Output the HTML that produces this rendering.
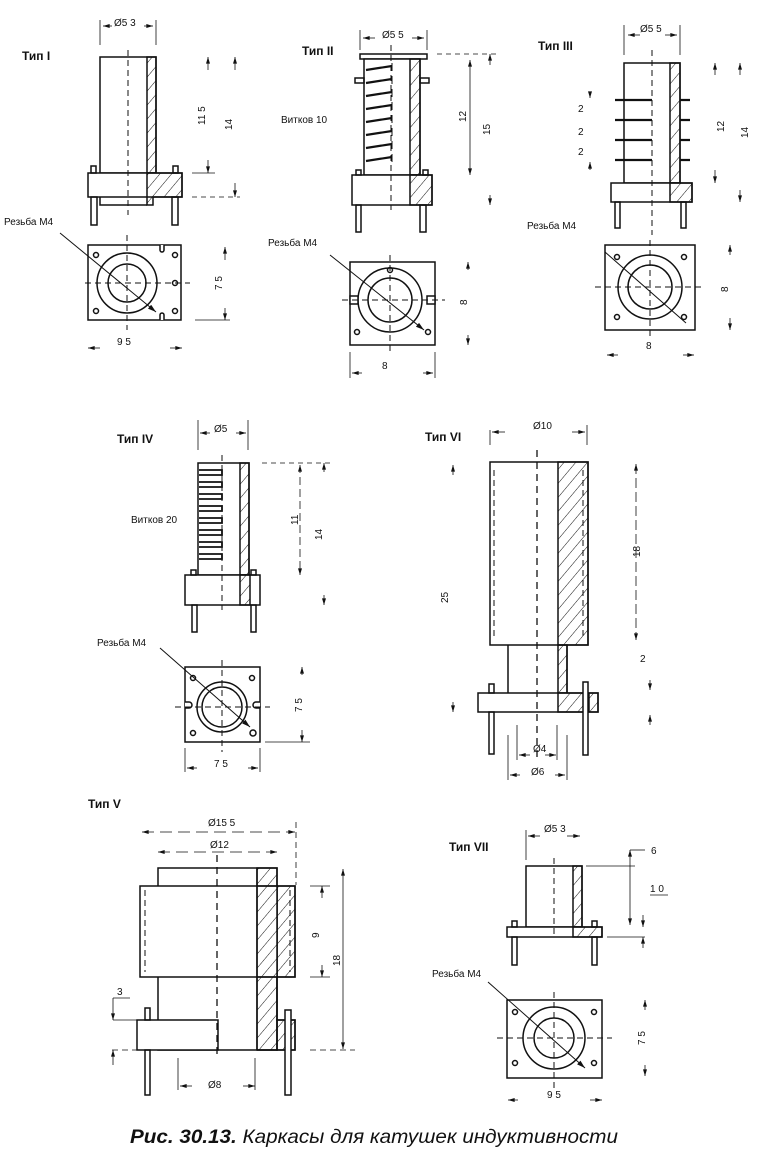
<!DOCTYPE html>
<html><head><meta charset="utf-8"><style>
html,body{margin:0;padding:0;background:#fff}
svg{display:block}
text{font-family:"Liberation Sans",sans-serif;fill:#111}
.b{font-weight:bold;font-size:12px}
.s{font-size:10px}
</style></head><body>
<svg width="766" height="1150" viewBox="0 0 766 1150" xmlns="http://www.w3.org/2000/svg">
<defs>
<pattern id="h" patternUnits="userSpaceOnUse" width="9" height="9" patternTransform="rotate(40)">
<line x1="0" y1="0" x2="0" y2="9" stroke="#111" stroke-width="1"/>
</pattern>
<marker id="a" viewBox="0 0 10 6" refX="10" refY="3" markerWidth="9" markerHeight="5" orient="auto-start-reverse"><path d="M0,0L10,3L0,6z" fill="#111"/></marker>
</defs>
<g fill="none" stroke="#111" stroke-width="1.5">

<!-- ===== Type I ===== -->
<rect x="100" y="57" width="56" height="116" fill="#fff"/>
<rect x="147" y="57" width="9" height="116" fill="url(#h)"/>
<rect x="88" y="173" width="94" height="24" fill="#fff"/>
<path d="M147 173H182V197H153V205H147Z" fill="url(#h)"/>
<path d="M100 197V205H147"/>
<rect x="91" y="166" width="5" height="7"/><rect x="173" y="166" width="5" height="7"/>
<rect x="91" y="197" width="6" height="28"/><rect x="172" y="197" width="6" height="28"/>
<line x1="128" y1="50" x2="128" y2="215" stroke-dasharray="6,4" stroke-width="1"/>
<rect x="88" y="245" width="93" height="75"/>
<circle cx="127" cy="283" r="30"/><circle cx="127" cy="283" r="19"/>
<circle cx="96" cy="255" r="2.5"/><circle cx="175" cy="255" r="2.5"/><circle cx="175" cy="283" r="2.5"/><circle cx="96" cy="311" r="2.5"/><circle cx="175" cy="311" r="2.5"/>
<path d="M160 245v5a2 2 0 0 0 4 0v-5M160 320v-5a2 2 0 0 1 4 0v5" fill="#fff"/>
<line x1="60" y1="233" x2="156" y2="312" stroke-width="1" marker-end="url(#a)"/>
<line x1="85" y1="283" x2="190" y2="283" stroke-dasharray="6,4" stroke-width="1"/>
<line x1="127" y1="235" x2="127" y2="330" stroke-dasharray="6,4" stroke-width="1"/>
<line x1="100" y1="20" x2="100" y2="45" stroke-width="0.8"/><line x1="156" y1="20" x2="156" y2="45" stroke-width="0.8"/>
<line x1="103" y1="26" x2="112" y2="26" marker-start="url(#a)" stroke-width="0.8"/><line x1="144" y1="26" x2="153" y2="26" marker-end="url(#a)" stroke-width="0.8"/>
<line x1="208" y1="70" x2="208" y2="57" marker-end="url(#a)" stroke-width="0.8"/><line x1="208" y1="160" x2="208" y2="173" marker-end="url(#a)" stroke-width="0.8"/>
<line x1="235" y1="70" x2="235" y2="57" marker-end="url(#a)" stroke-width="0.8"/><line x1="235" y1="183" x2="235" y2="197" marker-end="url(#a)" stroke-width="0.8"/>
<line x1="192" y1="173" x2="215" y2="173" stroke-width="0.8"/><line x1="192" y1="197" x2="240" y2="197" stroke-width="0.8" stroke-dasharray="5,4"/>
<line x1="225" y1="260" x2="225" y2="247" marker-end="url(#a)" stroke-width="0.8"/><line x1="225" y1="308" x2="225" y2="320" marker-end="url(#a)" stroke-width="0.8"/>
<line x1="195" y1="320" x2="230" y2="320" stroke-width="0.8"/>
<line x1="100" y1="348" x2="88" y2="348" marker-end="url(#a)" stroke-width="0.8"/><line x1="170" y1="348" x2="182" y2="348" marker-end="url(#a)" stroke-width="0.8"/>

<!-- ===== Type II ===== -->
<rect x="360" y="54" width="67" height="5" fill="#fff"/>
<rect x="364" y="59" width="56" height="116" fill="#fff"/>
<rect x="410" y="59" width="10" height="116" fill="url(#h)"/>
<g stroke-width="2.2">
<path d="M366 70L392 66M366 83L392 79M366 96L392 92M366 109L392 105M366 122L392 118M366 135L392 131M366 148L392 144M366 161L392 157"/>
</g>
<path d="M392 63V165" stroke-width="1" stroke-dasharray="8,5"/>
<rect x="355" y="78" width="9" height="5"/><rect x="420" y="78" width="9" height="5"/>
<rect x="352" y="175" width="80" height="30" fill="#fff"/>
<path d="M410 175H432V205H410Z" fill="url(#h)"/>
<rect x="356" y="205" width="5" height="27"/><rect x="420" y="205" width="6" height="27"/>
<rect x="356" y="170" width="5" height="5"/><rect x="423" y="170" width="5" height="5"/>
<line x1="391" y1="45" x2="391" y2="210" stroke-dasharray="6,4" stroke-width="1"/>
<rect x="350" y="262" width="85" height="83"/>
<circle cx="390" cy="300" r="32"/><circle cx="390" cy="300" r="22"/>
<rect x="350" y="296" width="8" height="8" fill="#fff"/><rect x="427" y="296" width="8" height="8" fill="#fff"/>
<circle cx="357" cy="332" r="2.5"/><circle cx="428" cy="332" r="2.5"/><circle cx="390" cy="270" r="2.5"/>
<line x1="330" y1="255" x2="424" y2="330" stroke-width="1" marker-end="url(#a)"/>
<line x1="342" y1="300" x2="445" y2="300" stroke-dasharray="6,4" stroke-width="1"/>
<line x1="390" y1="255" x2="390" y2="355" stroke-dasharray="6,4" stroke-width="1"/>
<line x1="360" y1="30" x2="360" y2="50" stroke-width="0.8"/><line x1="427" y1="30" x2="427" y2="50" stroke-width="0.8"/>
<line x1="363" y1="38" x2="375" y2="38" marker-start="url(#a)" stroke-width="0.8"/><line x1="412" y1="38" x2="424" y2="38" marker-end="url(#a)" stroke-width="0.8"/>
<line x1="437" y1="54" x2="500" y2="54" stroke-dasharray="5,4" stroke-width="0.8"/>
<line x1="470" y1="60" x2="470" y2="175" stroke-width="0.8" marker-start="url(#a)" marker-end="url(#a)"/>
<line x1="490" y1="65" x2="490" y2="54" marker-end="url(#a)" stroke-width="0.8"/><line x1="490" y1="195" x2="490" y2="205" marker-end="url(#a)" stroke-width="0.8"/>
<line x1="468" y1="270" x2="468" y2="262" marker-end="url(#a)" stroke-width="0.8"/><line x1="468" y1="335" x2="468" y2="345" marker-end="url(#a)" stroke-width="0.8"/>
<line x1="350" y1="352" x2="350" y2="378" stroke-width="0.8"/><line x1="435" y1="352" x2="435" y2="378" stroke-width="0.8"/>
<line x1="362" y1="373" x2="352" y2="373" marker-end="url(#a)" stroke-width="0.8"/><line x1="423" y1="373" x2="433" y2="373" marker-end="url(#a)" stroke-width="0.8"/>

<!-- ===== Type III ===== -->
<rect x="624" y="63" width="56" height="120" fill="#fff"/>
<rect x="670" y="63" width="10" height="120" fill="url(#h)"/>
<g stroke-width="2.2"><path d="M615 100H652M615 120H652M615 140H652M615 160H652M680 100H690M680 120H690M680 140H690M680 160H690"/></g>
<rect x="611" y="183" width="81" height="19" fill="#fff"/>
<path d="M670 183H692V202H670Z" fill="url(#h)"/>
<rect x="615" y="202" width="5" height="26"/><rect x="681" y="202" width="5" height="26"/>
<line x1="652" y1="50" x2="652" y2="235" stroke-dasharray="6,4" stroke-width="1"/>
<rect x="605" y="245" width="90" height="85"/>
<circle cx="650" cy="287" r="32"/><circle cx="650" cy="287" r="22"/>
<circle cx="617" cy="257" r="2.5"/><circle cx="684" cy="257" r="2.5"/><circle cx="617" cy="317" r="2.5"/><circle cx="684" cy="317" r="2.5"/>
<line x1="605" y1="252" x2="686" y2="323" stroke-width="1"/>
<line x1="595" y1="287" x2="705" y2="287" stroke-dasharray="6,4" stroke-width="1"/>
<line x1="650" y1="240" x2="650" y2="340" stroke-dasharray="6,4" stroke-width="1"/>
<line x1="624" y1="25" x2="624" y2="55" stroke-width="0.8"/><line x1="680" y1="25" x2="680" y2="55" stroke-width="0.8"/>
<line x1="628" y1="35" x2="640" y2="35" marker-start="url(#a)" stroke-width="0.8"/><line x1="665" y1="35" x2="677" y2="35" marker-end="url(#a)" stroke-width="0.8"/>
<line x1="590" y1="92" x2="590" y2="98" marker-end="url(#a)" stroke-width="0.8"/><line x1="590" y1="170" x2="590" y2="162" marker-end="url(#a)" stroke-width="0.8"/>
<line x1="740" y1="75" x2="740" y2="63" marker-end="url(#a)" stroke-width="0.8"/><line x1="740" y1="190" x2="740" y2="202" marker-end="url(#a)" stroke-width="0.8"/>
<line x1="715" y1="75" x2="715" y2="63" marker-end="url(#a)" stroke-width="0.8"/><line x1="715" y1="170" x2="715" y2="183" marker-end="url(#a)" stroke-width="0.8"/>
<line x1="730" y1="255" x2="730" y2="245" marker-end="url(#a)" stroke-width="0.8"/><line x1="730" y1="318" x2="730" y2="330" marker-end="url(#a)" stroke-width="0.8"/>
<line x1="618" y1="355" x2="607" y2="355" marker-end="url(#a)" stroke-width="0.8"/><line x1="683" y1="355" x2="694" y2="355" marker-end="url(#a)" stroke-width="0.8"/>

<!-- ===== Type IV ===== -->
<rect x="198" y="463" width="51" height="112" fill="#fff"/>
<rect x="240" y="463" width="9" height="112" fill="url(#h)"/>
<g stroke-width="1.8"><path d="M199 470H222V475H199M199 482H222V487H199M199 494H222V499H199M199 506H222V511H199M199 518H222V523H199M199 530H222V535H199M199 542H222V547H199M199 554H222V559H199"/></g>
<rect x="185" y="575" width="75" height="30" fill="#fff"/>
<rect x="240" y="575" width="10" height="30" fill="url(#h)"/>
<rect x="191" y="570" width="5" height="5"/><rect x="251" y="570" width="5" height="5"/>
<rect x="192" y="605" width="5" height="27"/><rect x="251" y="605" width="5" height="27"/>
<line x1="222" y1="455" x2="222" y2="610" stroke-dasharray="6,4" stroke-width="1"/>
<rect x="185" y="667" width="75" height="75"/>
<circle cx="222" cy="707" r="25"/><circle cx="222" cy="707" r="20"/>
<circle cx="193" cy="678" r="2.5"/><circle cx="252" cy="678" r="2.5"/><circle cx="193" cy="733" r="2.5"/><circle cx="253" cy="733" r="3"/>
<path d="M185 702h4a3 3 0 0 1 0 6h-4M260 702h-4a3 3 0 0 0 0 6h4" fill="#fff"/>
<line x1="160" y1="648" x2="250" y2="727" stroke-width="1" marker-end="url(#a)"/>
<line x1="175" y1="707" x2="270" y2="707" stroke-dasharray="6,4" stroke-width="1"/>
<line x1="222" y1="660" x2="222" y2="752" stroke-dasharray="6,4" stroke-width="1"/>
<line x1="198" y1="420" x2="198" y2="450" stroke-width="0.8"/><line x1="248" y1="420" x2="248" y2="450" stroke-width="0.8"/>
<line x1="200" y1="433" x2="210" y2="433" marker-start="url(#a)" stroke-width="0.8"/><line x1="236" y1="433" x2="246" y2="433" marker-end="url(#a)" stroke-width="0.8"/>
<line x1="262" y1="463" x2="330" y2="463" stroke-dasharray="5,4" stroke-width="0.8"/>
<line x1="300" y1="465" x2="300" y2="575" stroke-width="0.8" marker-start="url(#a)" marker-end="url(#a)" stroke-dasharray="8,4"/>
<line x1="324" y1="472" x2="324" y2="463" marker-end="url(#a)" stroke-width="0.8"/><line x1="324" y1="595" x2="324" y2="605" marker-end="url(#a)" stroke-width="0.8"/>
<line x1="302" y1="675" x2="302" y2="667" marker-end="url(#a)" stroke-width="0.8"/><line x1="302" y1="730" x2="302" y2="742" marker-end="url(#a)" stroke-width="0.8"/>
<line x1="265" y1="742" x2="310" y2="742" stroke-width="0.8"/>
<line x1="185" y1="748" x2="185" y2="772" stroke-width="0.8"/><line x1="260" y1="748" x2="260" y2="772" stroke-width="0.8"/>
<line x1="197" y1="768" x2="187" y2="768" marker-end="url(#a)" stroke-width="0.8"/><line x1="248" y1="768" x2="258" y2="768" marker-end="url(#a)" stroke-width="0.8"/>

<!-- ===== Type VI ===== -->
<rect x="490" y="462" width="98" height="183" fill="#fff"/>
<rect x="558" y="462" width="30" height="183" fill="url(#h)"/>
<line x1="494" y1="470" x2="494" y2="640" stroke-dasharray="6,4" stroke-width="1"/>
<line x1="583" y1="470" x2="583" y2="640" stroke-dasharray="6,4" stroke-width="1"/>
<path d="M508 645V712M567 645V712" />
<rect x="558" y="645" width="9" height="48" fill="url(#h)"/>
<rect x="478" y="693" width="120" height="19" fill="#fff"/>
<path d="M558 693H585V712H558Z" fill="url(#h)"/>
<rect x="589" y="693" width="9" height="19" fill="url(#h)"/>
<rect x="489" y="684" width="5" height="9"/><rect x="583" y="682" width="5" height="73" fill="#fff"/>
<rect x="489" y="712" width="5" height="42"/>
<line x1="537" y1="450" x2="537" y2="760" stroke-dasharray="7,5" stroke-width="1.3"/>
<line x1="490" y1="430" x2="490" y2="445" stroke-width="0.8"/><line x1="587" y1="425" x2="587" y2="445" stroke-width="0.8"/>
<line x1="492" y1="432" x2="505" y2="432" marker-start="url(#a)" stroke-width="0.8"/><line x1="572" y1="432" x2="585" y2="432" marker-end="url(#a)" stroke-width="0.8"/>
<line x1="636" y1="464" x2="636" y2="640" stroke-width="0.8" marker-start="url(#a)" marker-end="url(#a)" stroke-dasharray="10,4"/>
<line x1="453" y1="475" x2="453" y2="465" marker-end="url(#a)" stroke-width="0.8"/><line x1="453" y1="702" x2="453" y2="712" marker-end="url(#a)" stroke-width="0.8"/>
<line x1="650" y1="680" x2="650" y2="690" marker-end="url(#a)" stroke-width="0.8"/><line x1="650" y1="725" x2="650" y2="715" marker-end="url(#a)" stroke-width="0.8"/>
<line x1="517" y1="725" x2="517" y2="760" stroke-width="0.8"/><line x1="557" y1="725" x2="557" y2="760" stroke-width="0.8"/>
<line x1="519" y1="755" x2="530" y2="755" marker-start="url(#a)" stroke-width="0.8"/><line x1="545" y1="755" x2="556" y2="755" marker-end="url(#a)" stroke-width="0.8"/>
<line x1="508" y1="735" x2="508" y2="780" stroke-width="0.8"/><line x1="567" y1="735" x2="567" y2="780" stroke-width="0.8"/>
<line x1="510" y1="775" x2="520" y2="775" marker-start="url(#a)" stroke-width="0.8"/><line x1="555" y1="775" x2="565" y2="775" marker-end="url(#a)" stroke-width="0.8"/>

<!-- ===== Type V ===== -->
<rect x="158" y="868" width="119" height="182" fill="#fff"/>
<rect x="257" y="868" width="20" height="182" fill="url(#h)"/>
<rect x="140" y="886" width="137" height="91" fill="#fff"/>
<rect x="257" y="886" width="38" height="91" fill="url(#h)"/>
<path d="M277 886H295V977H277"/>
<path d="M257 868V1050"/>
<line x1="145" y1="890" x2="145" y2="972" stroke-dasharray="6,4" stroke-width="1"/>
<line x1="290" y1="890" x2="290" y2="972" stroke-dasharray="6,4" stroke-width="1"/>
<rect x="137" y="1020" width="81" height="30" fill="#fff"/>
<path d="M277 977V1020H295V1050H257" />
<rect x="277" y="1020" width="18" height="30" fill="url(#h)"/>
<rect x="145" y="1008" width="5" height="12"/><rect x="145" y="1050" width="5" height="45"/>
<rect x="285" y="1010" width="6" height="85" fill="#fff"/>
<line x1="217" y1="855" x2="217" y2="1058" stroke-dasharray="7,5" stroke-width="1.3"/>
<line x1="142" y1="832" x2="295" y2="832" stroke-width="0.8" stroke-dasharray="12,6" marker-start="url(#a)" marker-end="url(#a)"/>
<line x1="296" y1="822" x2="296" y2="885" stroke-width="0.8" stroke-dasharray="6,4"/>
<line x1="158" y1="852" x2="277" y2="852" stroke-width="0.8" stroke-dasharray="12,6" marker-start="url(#a)" marker-end="url(#a)"/>
<line x1="310" y1="886" x2="330" y2="886" stroke-width="0.8"/><line x1="310" y1="977" x2="330" y2="977" stroke-width="0.8"/>
<line x1="322" y1="898" x2="322" y2="886" marker-end="url(#a)" stroke-width="0.8"/><line x1="322" y1="965" x2="322" y2="977" marker-end="url(#a)" stroke-width="0.8"/>
<line x1="343" y1="869" x2="343" y2="1049" stroke-width="0.8" marker-start="url(#a)" marker-end="url(#a)"/>
<line x1="310" y1="1050" x2="355" y2="1050" stroke-width="0.8" stroke-dasharray="6,4"/>
<line x1="112" y1="1050" x2="137" y2="1050" stroke-width="0.8" stroke-dasharray="6,4"/>
<line x1="113" y1="1020" x2="137" y2="1020" stroke-width="0.8"/>
<line x1="113" y1="998" x2="130" y2="998" stroke-width="0.8"/>
<line x1="113" y1="998" x2="113" y2="1020" stroke-width="0.8" marker-end="url(#a)"/>
<line x1="113" y1="1065" x2="113" y2="1050" stroke-width="0.8" marker-end="url(#a)"/>
<line x1="178" y1="1058" x2="178" y2="1090" stroke-width="0.8"/><line x1="255" y1="1058" x2="255" y2="1090" stroke-width="0.8"/>
<line x1="180" y1="1086" x2="192" y2="1086" marker-start="url(#a)" stroke-width="0.8"/><line x1="243" y1="1086" x2="255" y2="1086" marker-end="url(#a)" stroke-width="0.8"/>

<!-- ===== Type VII ===== -->
<rect x="526" y="866" width="56" height="61" fill="#fff"/>
<rect x="573" y="866" width="9" height="61" fill="url(#h)"/>
<rect x="507" y="927" width="95" height="10" fill="#fff"/>
<path d="M573 927H602V937H573Z" fill="url(#h)"/>
<rect x="512" y="921" width="5" height="6"/><rect x="592" y="921" width="5" height="6"/>
<rect x="512" y="937" width="5" height="28"/><rect x="592" y="937" width="5" height="28"/>
<line x1="554" y1="858" x2="554" y2="937" stroke-dasharray="6,4" stroke-width="1"/>
<rect x="507" y="1000" width="95" height="78"/>
<circle cx="554" cy="1038" r="31"/><circle cx="554" cy="1038" r="20"/>
<circle cx="515" cy="1012" r="2.5"/><circle cx="594" cy="1012" r="2.5"/><circle cx="515" cy="1063" r="2.5"/><circle cx="594" cy="1063" r="2.5"/>
<line x1="488" y1="982" x2="585" y2="1068" stroke-width="1" marker-end="url(#a)"/>
<line x1="497" y1="1038" x2="612" y2="1038" stroke-dasharray="6,4" stroke-width="1"/>
<line x1="554" y1="992" x2="554" y2="1088" stroke-dasharray="6,4" stroke-width="1"/>
<line x1="526" y1="830" x2="526" y2="860" stroke-width="0.8"/>
<line x1="528" y1="836" x2="540" y2="836" marker-start="url(#a)" stroke-width="0.8"/><line x1="567" y1="836" x2="580" y2="836" marker-end="url(#a)" stroke-width="0.8"/>
<line x1="586" y1="866" x2="635" y2="866" stroke-width="0.8"/>
<line x1="630" y1="850" x2="645" y2="850" stroke-width="0.8"/><line x1="630" y1="850" x2="630" y2="925" stroke-width="0.8" marker-start="url(#a)" marker-end="url(#a)"/>
<line x1="650" y1="895" x2="668" y2="895" stroke-width="0.8"/>
<line x1="643" y1="915" x2="643" y2="927" marker-end="url(#a)" stroke-width="0.8"/><line x1="643" y1="948" x2="643" y2="937" marker-end="url(#a)" stroke-width="0.8"/>
<line x1="607" y1="937" x2="645" y2="937" stroke-width="0.8"/>
<line x1="645" y1="1010" x2="645" y2="1000" marker-end="url(#a)" stroke-width="0.8"/><line x1="645" y1="1065" x2="645" y2="1076" marker-end="url(#a)" stroke-width="0.8"/>
<line x1="518" y1="1100" x2="508" y2="1100" marker-end="url(#a)" stroke-width="0.8"/><line x1="590" y1="1100" x2="602" y2="1100" marker-end="url(#a)" stroke-width="0.8"/>
</g>

<!-- ===== Labels ===== -->
<text class="b" x="22" y="60">Тип I</text>
<text class="b" x="302" y="55">Тип II</text>
<text class="b" x="538" y="50">Тип III</text>
<text class="b" x="117" y="443">Тип IV</text>
<text class="b" x="425" y="441">Тип VI</text>
<text class="b" x="88" y="808">Тип V</text>
<text class="b" x="449" y="851">Тип VII</text>

<text class="s" x="114" y="26">Ø5 3</text>
<text class="s" x="382" y="38">Ø5 5</text>
<text class="s" x="640" y="32">Ø5 5</text>
<text class="s" x="214" y="432">Ø5</text>
<text class="s" x="533" y="429">Ø10</text>
<text class="s" x="208" y="826">Ø15 5</text>
<text class="s" x="210" y="848">Ø12</text>
<text class="s" x="544" y="832">Ø5 3</text>
<text class="s" x="533" y="752">Ø4</text>
<text class="s" x="531" y="775">Ø6</text>
<text class="s" x="208" y="1088">Ø8</text>

<text class="s" x="4" y="225">Резьба М4</text>
<text class="s" x="268" y="246">Резьба М4</text>
<text class="s" x="527" y="229">Резьба М4</text>
<text class="s" x="97" y="646">Резьба М4</text>
<text class="s" x="432" y="977">Резьба М4</text>
<text class="s" x="281" y="123">Витков 10</text>
<text class="s" x="131" y="523">Витков 20</text>

<text class="s" x="117" y="345">9 5</text>
<text class="s" x="382" y="369">8</text>
<text class="s" x="646" y="349">8</text>
<text class="s" x="214" y="767">7 5</text>
<text class="s" x="547" y="1098">9 5</text>
<text class="s" x="651" y="854">6</text>
<text class="s" x="650" y="892">1 0</text>
<text class="s" x="640" y="662">2</text>
<text class="s" x="117" y="995">3</text>
<text class="s" x="578" y="112">2</text>
<text class="s" x="578" y="135">2</text>
<text class="s" x="578" y="155">2</text>

<g class="s">
<text class="s" transform="translate(205,125) rotate(-90)">11 5</text>
<text class="s" transform="translate(232,130) rotate(-90)">14</text>
<text class="s" transform="translate(222,290) rotate(-90)">7 5</text>
<text class="s" transform="translate(466,122) rotate(-90)">12</text>
<text class="s" transform="translate(490,135) rotate(-90)">15</text>
<text class="s" transform="translate(467,305) rotate(-90)">8</text>
<text class="s" transform="translate(724,132) rotate(-90)">12</text>
<text class="s" transform="translate(748,138) rotate(-90)">14</text>
<text class="s" transform="translate(728,292) rotate(-90)">8</text>
<text class="s" transform="translate(298,525) rotate(-90)">11</text>
<text class="s" transform="translate(322,540) rotate(-90)">14</text>
<text class="s" transform="translate(302,712) rotate(-90)">7 5</text>
<text class="s" transform="translate(640,557) rotate(-90)">18</text>
<text class="s" transform="translate(448,603) rotate(-90)">25</text>
<text class="s" transform="translate(319,938) rotate(-90)">9</text>
<text class="s" transform="translate(340,966) rotate(-90)">18</text>
<text class="s" transform="translate(645,1045) rotate(-90)">7 5</text>
</g>

<text x="130" y="1143" font-size="19" textLength="488" lengthAdjust="spacingAndGlyphs" font-style="italic"><tspan font-weight="bold">Рис. 30.13.</tspan> Каркасы для катушек индуктивности</text>
</svg>
</body></html>
